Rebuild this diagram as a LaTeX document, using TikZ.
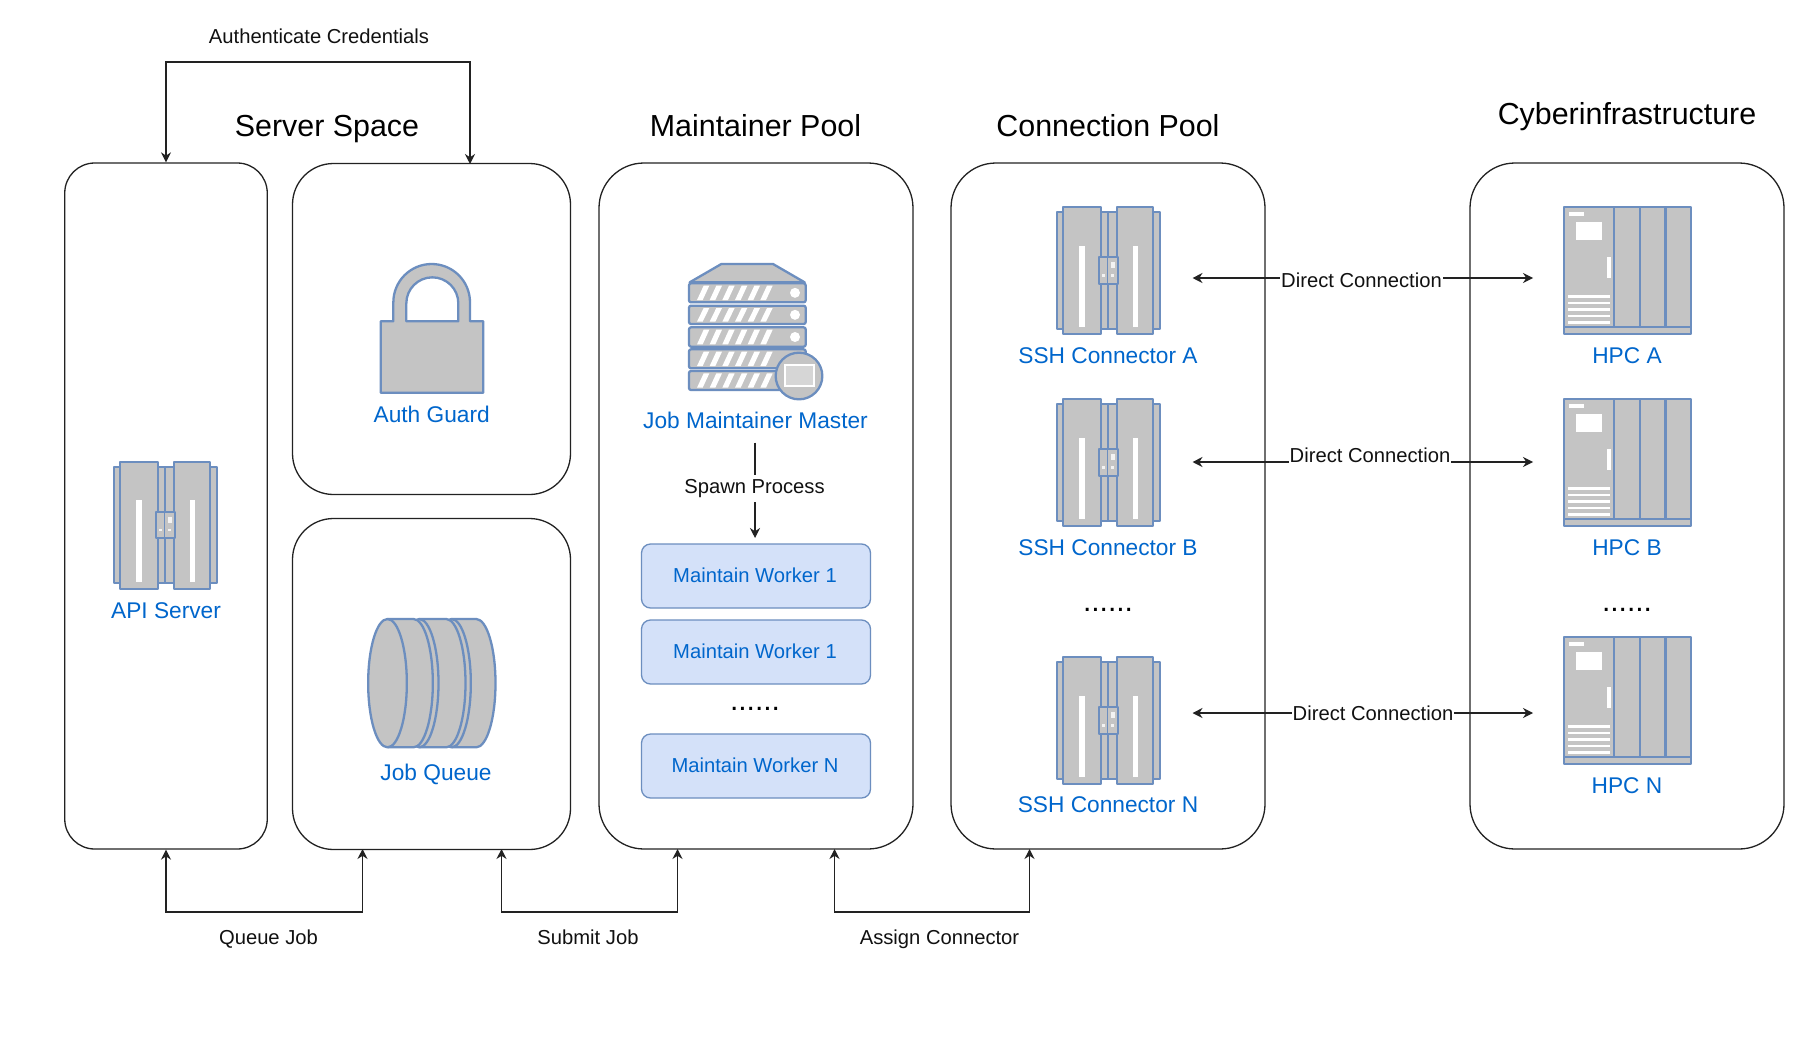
\documentclass[tikz,border=0pt]{standalone}
\usepackage{fontspec}
\setmainfont{Liberation Sans}
\usetikzlibrary{arrows.meta}
\definecolor{iconline}{HTML}{6C8EBF}
\definecolor{iconfill}{HTML}{C4C4C4}
\definecolor{labelblue}{HTML}{0066CC}
\definecolor{workerfill}{HTML}{D4E1F9}
\definecolor{inkdark}{HTML}{222222}
\definecolor{inktext}{HTML}{111111}
\tikzset{
  x=1pt,y=-1pt,
  panel/.style={draw=inkdark,line width=1.3pt,fill=white,rounded corners=#1,inner sep=0pt},
  workerbox/.style={draw=iconline,line width=1.3pt,fill=workerfill,rounded corners=9pt,minimum width=229pt,minimum height=64pt,inner sep=0pt},
  workertext/.style={inner sep=0pt,text=labelblue,font=\fontsize{20.2}{24}\selectfont},
  title/.style={inner sep=0pt,text=black,font=\fontsize{30.4}{36}\selectfont},
  plain/.style={inner sep=0pt,text=inktext,font=\fontsize{20.2}{24}\selectfont},
  onwire/.style={plain,fill=white,inner sep=1pt},
  iconlabel/.style={inner sep=0pt,text=labelblue,font=\fontsize{22.7}{27}\selectfont},
  dotsrow/.style={inner sep=0pt,text=black,font=\fontsize{30}{36}\selectfont},
  wire/.style={draw=inkdark,line width=1.3pt,arrows={Stealth[length=10pt,width=10pt]-Stealth[length=10pt,width=10pt]}},
  oneway/.style={draw=inkdark,line width=1.3pt,arrows={-Stealth[length=10pt,width=10pt]}},
  ic/.style={draw=iconline,line width=2.3pt,fill=iconfill,line join=round},
  wh/.style={fill=white,draw=none},
  servericon/.pic={
    \path[ic] (4,20) rectangle (313,370);
    \draw[iconline,line width=2.3pt] (155,20) -- (155,370);
    \path[ic] (22,5) rectangle (135,386);
    \path[ic] (182,5) rectangle (292,386);
    \path[ic,line width=2pt] (130,155) rectangle (187,235);
    \draw[iconline,line width=1.6pt] (155,155) -- (155,235);
    \path[wh] (70,120) rectangle (87,365);
    \path[wh] (230,120) rectangle (247,365);
    \path[fill=white,opacity=.8] (164,170) rectangle (176,188);
    \path[fill=white,opacity=.8] (139,206) rectangle (147,214);
    \path[fill=white,opacity=.8] (166,206) rectangle (174,214);
  },
  lockicon/.pic={
    \path[ic] (2,172) -- (40,172) -- (40,115) arc[start angle=180,end angle=360,radius=115] -- (270,172) -- (310,172) -- (310,386) -- (2,386) -- cycle;
    \path[ic,fill=white] (79,172) -- (79,118) arc[start angle=180,end angle=360,radius=78] -- (235,172) -- cycle;
  },
  queueicon/.pic={
    \foreach \cx/\bx in {252/326,155/236,60/138}{
      \path[ic] (\cx,0) -- (\bx,0) arc[start angle=270,end angle=450,x radius=58,y radius=192.5] -- (\cx,385) arc[start angle=90,end angle=270,x radius=58,y radius=192.5] -- cycle;
      \draw[iconline,line width=2.3pt] (\cx,0) arc[start angle=270,end angle=450,x radius=58,y radius=192.5];
    }
  },
  mastericon/.pic={
    \path[ic] (100,0) -- (255,0) -- (350,55) -- (5,55) -- cycle;
    \foreach \ya/\yb in {58/115,125/180,190/248,256/313,321/378}{
      \path[ic,rounded corners=2pt] (3,\ya) rectangle (353,\yb);
      \foreach \i in {0,...,5}{
        \path[wh] ({27+38*\i},\yb-7) -- ({44+38*\i},\yb-7) -- ({64+38*\i},\ya+7) -- ({47+38*\i},\ya+7) -- cycle;
      }
      \path[wh] (321,{(\ya+\yb)/2}) circle[radius=15];
    }
    \path[ic] (333,336) circle[radius=70];
    \path[draw=white,line width=2pt,fill=iconfill!70!white] (290,303) rectangle (377,366);
  },
  hpcicon/.pic={
    \path[ic] (4,5) rectangle (385,388);
    \draw[iconline,line width=2.3pt] (4,367) -- (385,367) (154,5) -- (154,367) (232,5) -- (232,367) (309,5) -- (309,367);
    \path[wh] (19,20) rectangle (65,32);
    \path[wh] (40,50) rectangle (119,105);
    \path[wh] (133,157) rectangle (145,219);
    \foreach \y in {275,294,313,333,352}{\path[wh] (17,\y-4) rectangle (142,\y+4);}
  },
}
\begin{document}
\begin{tikzpicture}
\useasboundingbox[fill=white] (0,0) rectangle (1814,1036);
% panels
\node[panel=30pt,minimum width=202.5pt,minimum height=686pt] (api) at (166,506) {};
\node[panel=41pt,minimum width=278pt,minimum height=331pt] (auth) at (431.5,329) {};
\node[panel=41pt,minimum width=278pt,minimum height=331pt] (jobq) at (431.5,684) {};
\node[panel=45pt,minimum width=314pt,minimum height=686pt] (maint) at (756,506) {};
\node[panel=45pt,minimum width=314pt,minimum height=686pt] (conn) at (1108,506) {};
\node[panel=45pt,minimum width=314pt,minimum height=686pt] (cyber) at (1627,506) {};
% titles
\node[title] (t1) at (327,129) {Server Space};
\node[title] (t2) at (755.5,125.5) {Maintainer Pool};
\node[title] (t3) at (1108,125.5) {Connection Pool};
\node[title] (t4) at (1627,116.5) {Cyberinfrastructure};
% icons
\pic[scale=1/3] (apiicon) at (113,460) {servericon};
\pic[scale=1/3] (lock) at (380,264) {lockicon};
\pic[scale=1/3] (queue) at (367.5,619) {queueicon};
\pic[scale=1/3] (master) at (688,264) {mastericon};
\pic[scale=1/3] (ssha) at (1056,205.5) {servericon};
\pic[scale=1/3] (sshb) at (1056,397.5) {servericon};
\pic[scale=1/3] (sshn) at (1056,655.5) {servericon};
\pic[scale=1/3] (hpca) at (1562.5,205) {hpcicon};
\pic[scale=1/3] (hpcb) at (1562.5,397) {hpcicon};
\pic[scale=1/3] (hpcn) at (1562.5,635) {hpcicon};
% icon labels
\node[iconlabel] (lapi) at (166,611) {API Server};
\node[iconlabel] (lauth) at (431.7,414) {Auth Guard};
\node[iconlabel] (lqueue) at (436,774.5) {Job Queue};
\node[iconlabel] (lmaster) at (755.5,420) {Job Maintainer Master};
\node[iconlabel] (lssha) at (1108,356) {SSH Connector A};
\node[iconlabel] (lsshb) at (1108,547.5) {SSH Connector B};
\node[iconlabel] (lsshn) at (1108,805) {SSH Connector N};
\node[iconlabel] (lhpca) at (1627,356) {HPC A};
\node[iconlabel] (lhpcb) at (1627,547.5) {HPC B};
\node[iconlabel] (lhpcn) at (1627,786) {HPC N};
% workers
\node[workerbox] (w1) at (756,576) {};
\node[workerbox] (w2) at (756,652) {};
\node[workerbox] (wn) at (756,766) {};
\node[workertext] (tw1) at (755,575) {Maintain Worker 1};
\node[workertext] (tw2) at (755,651) {Maintain Worker 1};
\node[workertext] (twn) at (755,765) {Maintain Worker N};
% dots
\node[dotsrow] (d1) at (755,708.5) {......};
\node[dotsrow] (d2) at (1108,610) {......};
\node[dotsrow] (d3) at (1627,610) {......};
% top connector
\coordinate (authtop) at (470,164);
\coordinate (topa) at (166,62);
\coordinate (topb) at (470,62);
\draw[wire] (api.north) -- (topa) -- (topb) -- (authtop);
\node[plain] (lauthc) at (319,36.5) {Authenticate Credentials};
% bottom connectors
\coordinate (qtarget) at (362.5,849);
\coordinate (qa) at (166,912);
\coordinate (qb) at (362.5,912);
\draw[wire] (api.south) -- (qa) -- (qb) -- (qtarget);
\node[plain] (lq) at (268.5,939) {Queue Job};
\coordinate (sstart) at (501.5,849);
\coordinate (starget) at (677.5,849);
\coordinate (sa) at (501.5,912);
\coordinate (sb) at (677.5,912);
\draw[wire] (sstart) -- (sa) -- (sb) -- (starget);
\node[plain] (ls) at (588,937.5) {Submit Job};
\coordinate (astart) at (834.5,849);
\coordinate (atarget) at (1029.5,849);
\coordinate (aa) at (834.5,912);
\coordinate (ab) at (1029.5,912);
\draw[wire] (astart) -- (aa) -- (ab) -- (atarget);
\node[plain] (la) at (939.5,939) {Assign Connector};
% spawn
\coordinate (spawntop) at (755,442.5);
\coordinate (spawnend) at (755,538);
\draw[oneway] (spawntop) -- (spawnend);
\node[onwire,minimum height=27pt] (lspawn) at (754.5,488.5) {Spawn Process};
% direct connections
\coordinate (da1) at (1192.5,278);
\coordinate (da2) at (1533,278);
\coordinate (db1) at (1192.5,462);
\coordinate (db2) at (1533,462);
\coordinate (dn1) at (1192.5,713);
\coordinate (dn2) at (1533,713);
\draw[wire] (da1) -- (da2);
\draw[wire] (db1) -- (db2);
\draw[wire] (dn1) -- (dn2);
\node[onwire] (lda) at (1361.5,280) {Direct Connection};
\node[onwire] (ldb) at (1370,455) {Direct Connection};
\node[onwire] (ldn) at (1373,713) {Direct Connection};
\end{tikzpicture}
\end{document}
